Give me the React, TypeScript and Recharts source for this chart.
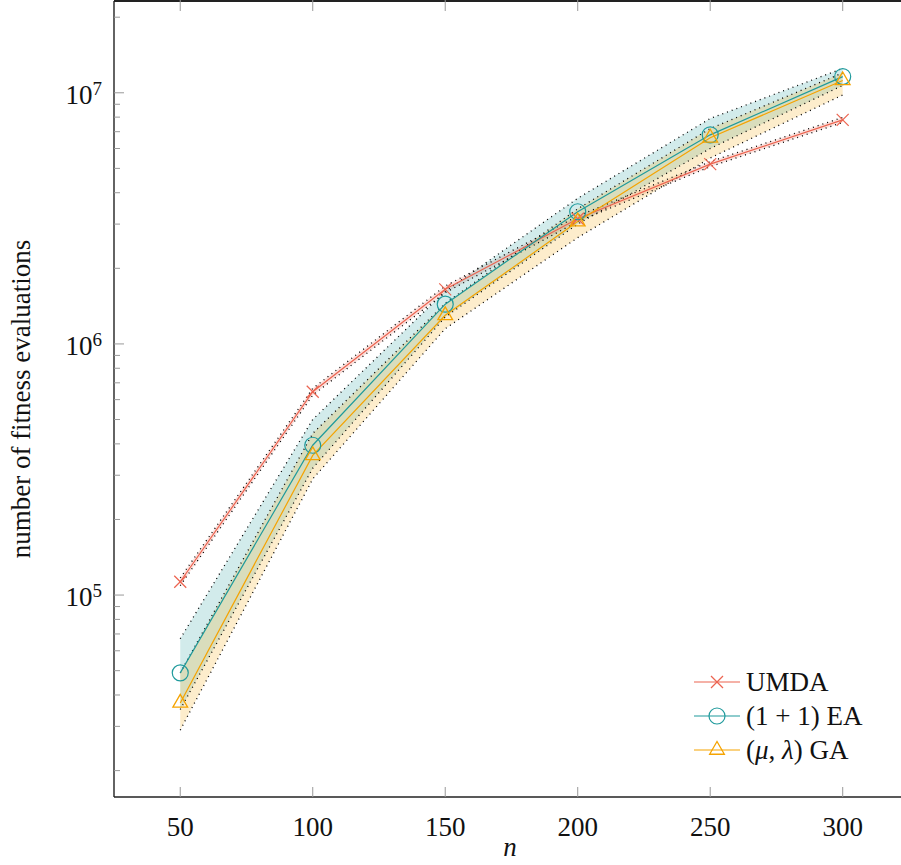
import {
  ComposedChart,
  Line,
  Area,
  XAxis,
  YAxis,
} from 'recharts'

const n = [50, 100, 150, 200, 250, 300]

const umda = [1.13e5, 6.45e5, 1.65e6, 3.15e6, 5.2e6, 7.8e6]
const umdaLo = [1.09e5, 6.25e5, 1.6e6, 3.07e6, 5.08e6, 7.62e6]
const umdaHi = [1.17e5, 6.65e5, 1.7e6, 3.23e6, 5.32e6, 7.98e6]

const ea = [4.9e4, 3.95e5, 1.44e6, 3.36e6, 6.8e6, 1.16e7]
const eaLo = [3.5e4, 3.2e5, 1.28e6, 3.0e6, 6.0e6, 1.07e7]
const eaHi = [6.7e4, 5.0e5, 1.62e6, 3.8e6, 7.9e6, 1.25e7]

const ga = [3.72e4, 3.6e5, 1.3e6, 3.07e6, 6.62e6, 1.12e7]
const gaLo = [2.9e4, 2.9e5, 1.15e6, 2.65e6, 5.5e6, 9.8e6]
const gaHi = [4.9e4, 4.4e5, 1.45e6, 3.45e6, 7.2e6, 1.2e7]

const xTicks = [50, 100, 150, 200, 250, 300]
const yMajor = [1e5, 1e6, 1e7]
const yTicks = [
  2e4, 3e4, 4e4, 5e4, 6e4, 7e4, 8e4, 9e4,
  1e5, 2e5, 3e5, 4e5, 5e5, 6e5, 7e5, 8e5, 9e5,
  1e6, 2e6, 3e6, 4e6, 5e6, 6e6, 7e6, 8e6, 9e6,
  1e7, 2e7,
]

const RED = '#ec6450'
const TEAL = '#1f9a9c'
const ORANGE = '#f5a300'
const FONT = '"Liberation Serif", "DejaVu Serif", serif'
const FS = 27

const data = n.map((x, i) => ({
  n: x,
  umda: umda[i],
  umdaLo: umdaLo[i],
  umdaHi: umdaHi[i],
  umdaBand: [umdaLo[i], umdaHi[i]],
  ea: ea[i],
  eaLo: eaLo[i],
  eaHi: eaHi[i],
  eaBand: [eaLo[i], eaHi[i]],
  ga: ga[i],
  gaLo: gaLo[i],
  gaHi: gaHi[i],
  gaBand: [gaLo[i], gaHi[i]],
}))

const W = 901
const H = 865
const PLOT_LEFT = 114
const PLOT_TOP = 1
const PLOT_BOTTOM = 797

function Cross({ cx, cy, color, s = 6 }: any) {
  return (
    <g stroke={color} strokeWidth={1.2}>
      <line x1={cx - s} y1={cy - s} x2={cx + s} y2={cy + s} />
      <line x1={cx - s} y1={cy + s} x2={cx + s} y2={cy - s} />
    </g>
  )
}

function Circ({ cx, cy, color }: any) {
  return <circle cx={cx} cy={cy} r={8} fill="none" stroke={color} strokeWidth={1.2} />
}

function Tri({ cx, cy, color }: any) {
  const r = 8.5
  const pts = `${cx},${cy - r} ${cx - 0.866 * r},${cy + 0.5 * r} ${cx + 0.866 * r},${cy + 0.5 * r}`
  return <polygon points={pts} fill="none" stroke={color} strokeWidth={1.3} />
}

// x tick: inward mark at bottom, mirrored mark at top, label below
function XTick({ x, payload }: any) {
  return (
    <g>
      <line x1={x} y1={PLOT_BOTTOM} x2={x} y2={PLOT_BOTTOM - 10} stroke="#999" strokeWidth={1} />
      <line x1={x} y1={0} x2={x} y2={PLOT_TOP + 10} stroke="#999" strokeWidth={1} />
      <text x={x} y={836} textAnchor="middle" fontFamily={FONT} fontSize={FS} fill="#111">
        {payload.value}
      </text>
    </g>
  )
}

function YTick({ y, payload }: any) {
  const v = payload.value
  const major = yMajor.includes(v)
  const exp = Math.round(Math.log10(v))
  return (
    <g>
      <line
        x1={PLOT_LEFT}
        y1={y}
        x2={PLOT_LEFT + (major ? 10 : 6)}
        y2={y}
        stroke="#999"
        strokeWidth={1}
      />
      {major && (
        <text x={102} y={y + 11} textAnchor="end" fontFamily={FONT} fontSize={FS} fill="#111">
          10
          <tspan dy={-9} fontSize={19}>
            {exp}
          </tspan>
        </text>
      )}
    </g>
  )
}

const legendItems = [
  { label: 'UMDA', color: RED, mark: 'cross' },
  { label: 'ea', color: TEAL, mark: 'circle' },
  { label: 'ga', color: ORANGE, mark: 'tri' },
]

function LegendLabel({ label }: { label: string }) {
  if (label === 'ea') return <>(1 + 1) EA</>
  if (label === 'ga')
    return (
      <>
        (<tspan fontStyle="italic">μ</tspan>, <tspan fontStyle="italic">λ</tspan>) GA
      </>
    )
  return <>{label}</>
}

// bottom label "n" plus the legend, drawn in the chart's own svg
function BottomLabel() {
  const rows = [682, 716, 750]
  return (
    <g>
      <text x={510} y={856} textAnchor="middle" fontFamily={FONT} fontSize={FS} fontStyle="italic" fill="#111">
        n
      </text>
      {legendItems.map((it, i) => {
        const cy = rows[i]
        return (
          <g key={it.label}>
            <line x1={694} y1={cy} x2={740} y2={cy} stroke={it.color} strokeWidth={1.2} />
            {it.mark === 'cross' && <Cross cx={717} cy={cy} color={it.color} />}
            {it.mark === 'circle' && <Circ cx={717} cy={cy} color={it.color} />}
            {it.mark === 'tri' && <Tri cx={717} cy={cy} color={it.color} />}
            <text x={746} y={cy + 9} fontFamily={FONT} fontSize={FS} fill="#111">
              <LegendLabel label={it.label} />
            </text>
          </g>
        )
      })}
    </g>
  )
}

// y label plus the top edge of the frame
function YLabel() {
  return (
    <g>
      <rect x={PLOT_LEFT} y={0} width={W - PLOT_LEFT} height={2} fill="#222" />
      <text
        x={30}
        y={399}
        transform="rotate(-90 30 399)"
        textAnchor="middle"
        fontFamily={FONT}
        fontSize={FS}
        fill="#111"
      >
        number of fitness evaluations
      </text>
    </g>
  )
}

const dotted = { stroke: '#000', strokeWidth: 1.3, strokeDasharray: '1 4', dot: false, isAnimationActive: false, legendType: 'none' as const }

export default function App() {
  return (
    <div style={{ position: 'absolute', left: 0, top: 0 }}>
      <ComposedChart
        width={W}
        height={H}
        data={data}
        margin={{ top: PLOT_TOP, right: 0, left: 0, bottom: 0 }}
      >
        <XAxis
          dataKey="n"
          type="number"
          domain={[25, 322]}
          allowDataOverflow
          ticks={xTicks}
          interval={0}
          height={H - PLOT_BOTTOM}
          tickLine={false}
          axisLine={{ stroke: '#222', strokeWidth: 1.4 }}
          tick={<XTick />}
          label={{ content: () => <BottomLabel /> }}
        />
        <YAxis
          scale="log"
          type="number"
          domain={[1.57e4, 2.32e7]}
          allowDataOverflow
          ticks={yTicks}
          interval={0}
          width={PLOT_LEFT}
          tickLine={false}
          axisLine={{ stroke: '#222', strokeWidth: 1.4 }}
          tick={<YTick />}
          label={{ content: () => <YLabel /> }}
        />

        <Area dataKey="umdaBand" type="linear" stroke="none" fill={RED} fillOpacity={0.2} isAnimationActive={false} legendType="none" />
        <Area dataKey="eaBand" type="linear" stroke="none" fill={TEAL} fillOpacity={0.2} isAnimationActive={false} legendType="none" />
        <Area dataKey="gaBand" type="linear" stroke="none" fill={ORANGE} fillOpacity={0.2} isAnimationActive={false} legendType="none" />

        <Line dataKey="umdaLo" type="linear" {...dotted} />
        <Line dataKey="umdaHi" type="linear" {...dotted} />
        <Line dataKey="eaLo" type="linear" {...dotted} />
        <Line dataKey="eaHi" type="linear" {...dotted} />
        <Line dataKey="gaLo" type="linear" {...dotted} />
        <Line dataKey="gaHi" type="linear" {...dotted} />

        <Line
          dataKey="umda"
          type="linear"
          stroke={RED}
          strokeWidth={1.2}
          isAnimationActive={false}
          dot={(p: any) => <Cross key={`u${p.index}`} cx={p.cx} cy={p.cy} color={RED} />}
        />
        <Line
          dataKey="ea"
          type="linear"
          stroke={TEAL}
          strokeWidth={1.2}
          isAnimationActive={false}
          dot={(p: any) => <Circ key={`e${p.index}`} cx={p.cx} cy={p.cy} color={TEAL} />}
        />
        <Line
          dataKey="ga"
          type="linear"
          stroke={ORANGE}
          strokeWidth={1.2}
          isAnimationActive={false}
          dot={(p: any) => <Tri key={`g${p.index}`} cx={p.cx} cy={p.cy} color={ORANGE} />}
        />
      </ComposedChart>
    </div>
  )
}
